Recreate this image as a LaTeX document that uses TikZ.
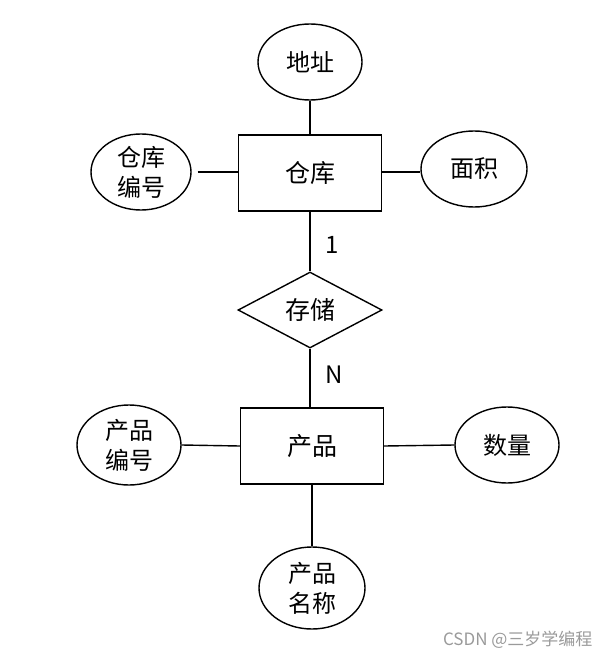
\documentclass[tikz,border=0pt]{standalone}
\usepackage{fontspec}
\usepackage{xcolor}
\usepackage{tikz}
\usetikzlibrary{shapes.geometric}
\setmainfont{Noto Sans CJK SC}
\definecolor{erblack}{HTML}{000000}
\definecolor{ergrey}{HTML}{9A9A9A}
\tikzset{
  ent/.style  = {rectangle, draw=erblack, line width=1.4pt, fill=white,
                 minimum width=143pt, minimum height=76pt,
                 font=\fontsize{25}{30}\selectfont},
  attr/.style = {ellipse, draw=erblack, line width=1.4pt, fill=white,
                 inner sep=0pt, font=\fontsize{24}{30}\selectfont, align=center},
  rel/.style  = {diamond, draw=erblack, line width=1.4pt, fill=white,
                 inner sep=0pt, minimum width=144pt, minimum height=76pt,
                 aspect=1.9, font=\fontsize{25}{30}\selectfont},
  ln/.style   = {draw=erblack, line width=1.4pt},
  card/.style = {font=\fontsize{24}{28}\selectfont, inner sep=1pt},
}

\begin{document}
\begin{tikzpicture}[x=1pt,y=-1pt]
  \useasboundingbox (0,0) rectangle (610,660);
  % entities
  \node[ent] (cangku)  at (310,173) {仓库};
  \node[ent] (chanpin) at (312,446) {产品};
  % relationship
  \node[rel] (cunchu)  at (310,310) {存储};
  % attributes
  \node[attr, minimum width=104pt, minimum height=76pt] (dizhi)  at (310,62)  {地址};
  \node[attr, minimum width=100pt, minimum height=76pt] (ckbh)   at (141,172) {仓库\\编号};
  \node[attr, minimum width=106pt, minimum height=76pt] (mianji) at (474,169) {面积};
  \node[attr, minimum width=104pt, minimum height=80pt] (cpbh)   at (129,445) {产品\\编号};
  \node[attr, minimum width=104pt, minimum height=76pt] (shuliang) at (507,445) {数量};
  \node[attr, minimum width=106pt, minimum height=82pt] (cpmc)   at (312,588) {产品\\名称};
  % connectors
  \draw[ln] (dizhi) -- (cangku);
  \draw[ln, shorten <=6pt] (ckbh.east) -- (cangku.west |- ckbh.east);
  \draw[ln] (cangku.east |- 0,172) -- (mianji.west |- 0,172);
  \draw[ln] (cangku) -- node[card, right=14pt, pos=0.55] (one) {1} (cunchu);
  \draw[ln] (cunchu.south) -- node[card, right=14pt, pos=0.45] (many) {N} (cunchu.south |- chanpin.north);
  \draw[ln] (cpbh.east) -- (chanpin.west);
  \draw[ln] (chanpin.east) -- (shuliang.west);
  \draw[ln] (chanpin) -- (cpmc);
  % watermark
  \node[text=ergrey, font=\fontsize{17}{20}\selectfont, anchor=east] (mark) at (596,640) {CSDN @三岁学编程};
\end{tikzpicture}
\end{document}
